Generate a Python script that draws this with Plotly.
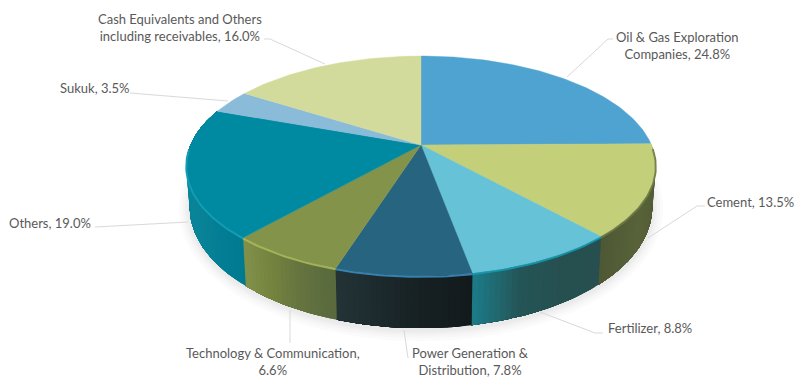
import numpy as np
import plotly.graph_objects as go

# Portfolio allocation, clockwise from twelve o'clock
categories = [
    "Oil & Gas Exploration Companies", "Cement", "Fertilizer",
    "Power Generation & Distribution", "Technology & Communication",
    "Others", "Sukuk", "Cash Equivalents and Others including receivables",
]
values = [24.8, 13.5, 8.8, 7.8, 6.6, 19.0, 3.5, 16.0]
label_heads = [
    "Oil & Gas Exploration<br>Companies", "Cement", "Fertilizer",
    "Power Generation &<br>Distribution", "Technology & Communication",
    "Others", "Sukuk", "Cash Equivalents and Others<br>including receivables",
]
label_breaks = [", ", ", ", ", ", ", ", ",<br>", ", ", ", ", ", "]

top_colors = ["#4FA3D1", "#C4D079", "#66C2D6", "#26647F",
              "#84934A", "#008AA1", "#8ABBD9", "#D3DB9C"]
# Side wall shading, from the clockwise-start edge to the clockwise-end edge
side_stops = [
    ["#2f4a5c", "#2f4a5c"],
    ["#3b4222", "#525c35", "#59633a", "#4e5834"],
    ["#274f50", "#264f50", "#245455", "#1b7c8a"],
    ["#121a1c", "#161f21", "#1c2a2d", "#223336"],
    ["#58693c", "#64733f", "#75853f", "#82914a"],
    ["#007a90", "#0a8499", "#07879c", "#0a7d92"],
    ["#0a7d92", "#0a7d92"],
    ["#0a7d92", "#0a7d92"],
]
bevel_colors = ["#4FA3D1", "#6f7c47", "#149ab2", "#3e8fc6",
                "#aebb5d", "#16a2b8", "#8ABBD9", "#D3DB9C"]

# Projection of the disc onto the page
APEX_X, APEX_Y = 421.0, 145.0
SCALE_X, SCALE_Y, TILT = 230.5, 106.0, 0.191
WALL_SX, WALL_SY, WALL_DY = 0.985, 1.10, 39.0


def rim(theta):
    u, v = np.sin(theta), np.cos(theta)
    w = 1 + TILT * v
    return SCALE_X * u / w, -SCALE_Y * v / w


def top_xy(theta):
    x, y = rim(theta)
    return APEX_X + x, APEX_Y + y


def base_xy(theta):
    x, y = rim(theta)
    return APEX_X + WALL_SX * x, APEX_Y + WALL_SY * y + WALL_DY


def mix(stops, t):
    rgb = np.array([[int(c[i:i + 2], 16) for i in (1, 3, 5)] for c in stops], float)
    pos = np.linspace(0, 1, len(stops))
    return "rgb({:.0f},{:.0f},{:.0f})".format(*[np.interp(t, pos, rgb[:, k]) for k in range(3)])


fig = go.Figure()


def polygon(x, y, color, line=0.5):
    fig.add_trace(go.Scatter(
        x=x, y=y, mode="lines", fill="toself", fillcolor=color,
        line=dict(color=color, width=line), hoverinfo="skip", showlegend=False,
    ))


edges = 2 * np.pi * np.concatenate([[0], np.cumsum(values)]) / sum(values)

# Soft ground shadow
full = np.linspace(0, 2 * np.pi, 181)
bx, by = base_xy(full)
for grow in (11, 8, 5.5, 3.5, 2):
    cx, cy = APEX_X, APEX_Y + 62
    polygon(cx + (bx - cx) * (1 + grow / 235), cy + (by - cy) * (1 + grow / 120) + 2,
            "rgba(90,90,90,0.022)", line=0)

# Side wall: each slice is painted as nested bands, so neighbouring bands leave no seams
for i, val in enumerate(values):
    if np.cos((edges[i] + edges[i + 1]) / 2) > 0.2 and np.cos(edges[i + 1]) > 0:
        continue
    n = max(6, int(round(val * 3)))
    t = np.linspace(edges[i], edges[i + 1], n + 1)
    for j in range(n):
        span = np.linspace(t[j], edges[i + 1], max(2, n - j + 1))
        xa, ya = top_xy(span)
        xb, yb = base_xy(span[::-1])
        polygon(np.r_[xa, xb, xa[0]], np.r_[ya, yb, ya[0]],
                mix(side_stops[i], (j + 0.5) / n), line=0)

# Top face of each slice
for i, val in enumerate(values):
    t = np.linspace(edges[i], edges[i + 1], max(8, int(val * 3)))
    x, y = top_xy(t)
    polygon(np.r_[APEX_X, x, APEX_X], np.r_[APEX_Y, y, APEX_Y], top_colors[i], line=0.4)

# Lit bevel along the front of the rim
for i, val in enumerate(values):
    t = np.linspace(edges[i], edges[i + 1], max(8, int(val * 3)))
    t = t[np.cos(t) < -0.02]
    if len(t) < 2:
        continue
    x, y = top_xy(t)
    fig.add_trace(go.Scatter(
        x=x, y=y + 0.8, mode="lines", line=dict(color=bevel_colors[i], width=2),
        opacity=0.85, hoverinfo="skip", showlegend=False,
    ))

# Leader lines from each label to its slice
leaders = [
    ([613, 608, 567], [39, 39, 77]),
    ([705, 697, 648], [206, 206, 238]),
    ([603, 595, 540], [333, 333, 312]),
    ([408, 404], [358, 330]),
    ([290, 290], [343, 310]),
    ([95, 188], [227, 222]),
    ([130, 228], [93, 101]),
    ([264, 270, 325], [39, 39, 64]),
]
for x, y in leaders:
    fig.add_trace(go.Scatter(
        x=x, y=y, mode="lines", line=dict(color="#d9d9d9", width=1),
        hoverinfo="skip", showlegend=False,
    ))

# Data labels
label_anchor = [(677, 45), (750, 202), (649.5, 328), (470, 361),
                (273, 361), (50, 223), (94, 88), (180, 27)]
for head, sep, val, (x, y) in zip(label_heads, label_breaks, values, label_anchor):
    fig.add_annotation(
        x=x, y=y, text=f"{head}{sep}{val:.1f}%", showarrow=False,
        xanchor="center", yanchor="middle", align="center",
        font=dict(family="Lato", size=13, color="#595959"),
    )

fig.update_layout(
    width=795, height=379, autosize=False,
    margin=dict(l=0, r=0, t=0, b=0),
    paper_bgcolor="white", plot_bgcolor="white", showlegend=False,
    xaxis=dict(range=[0, 795], visible=False, fixedrange=True),
    yaxis=dict(range=[379, 0], visible=False, fixedrange=True),
)
fig.write_html("out.html", config={"displayModeBar": False})
